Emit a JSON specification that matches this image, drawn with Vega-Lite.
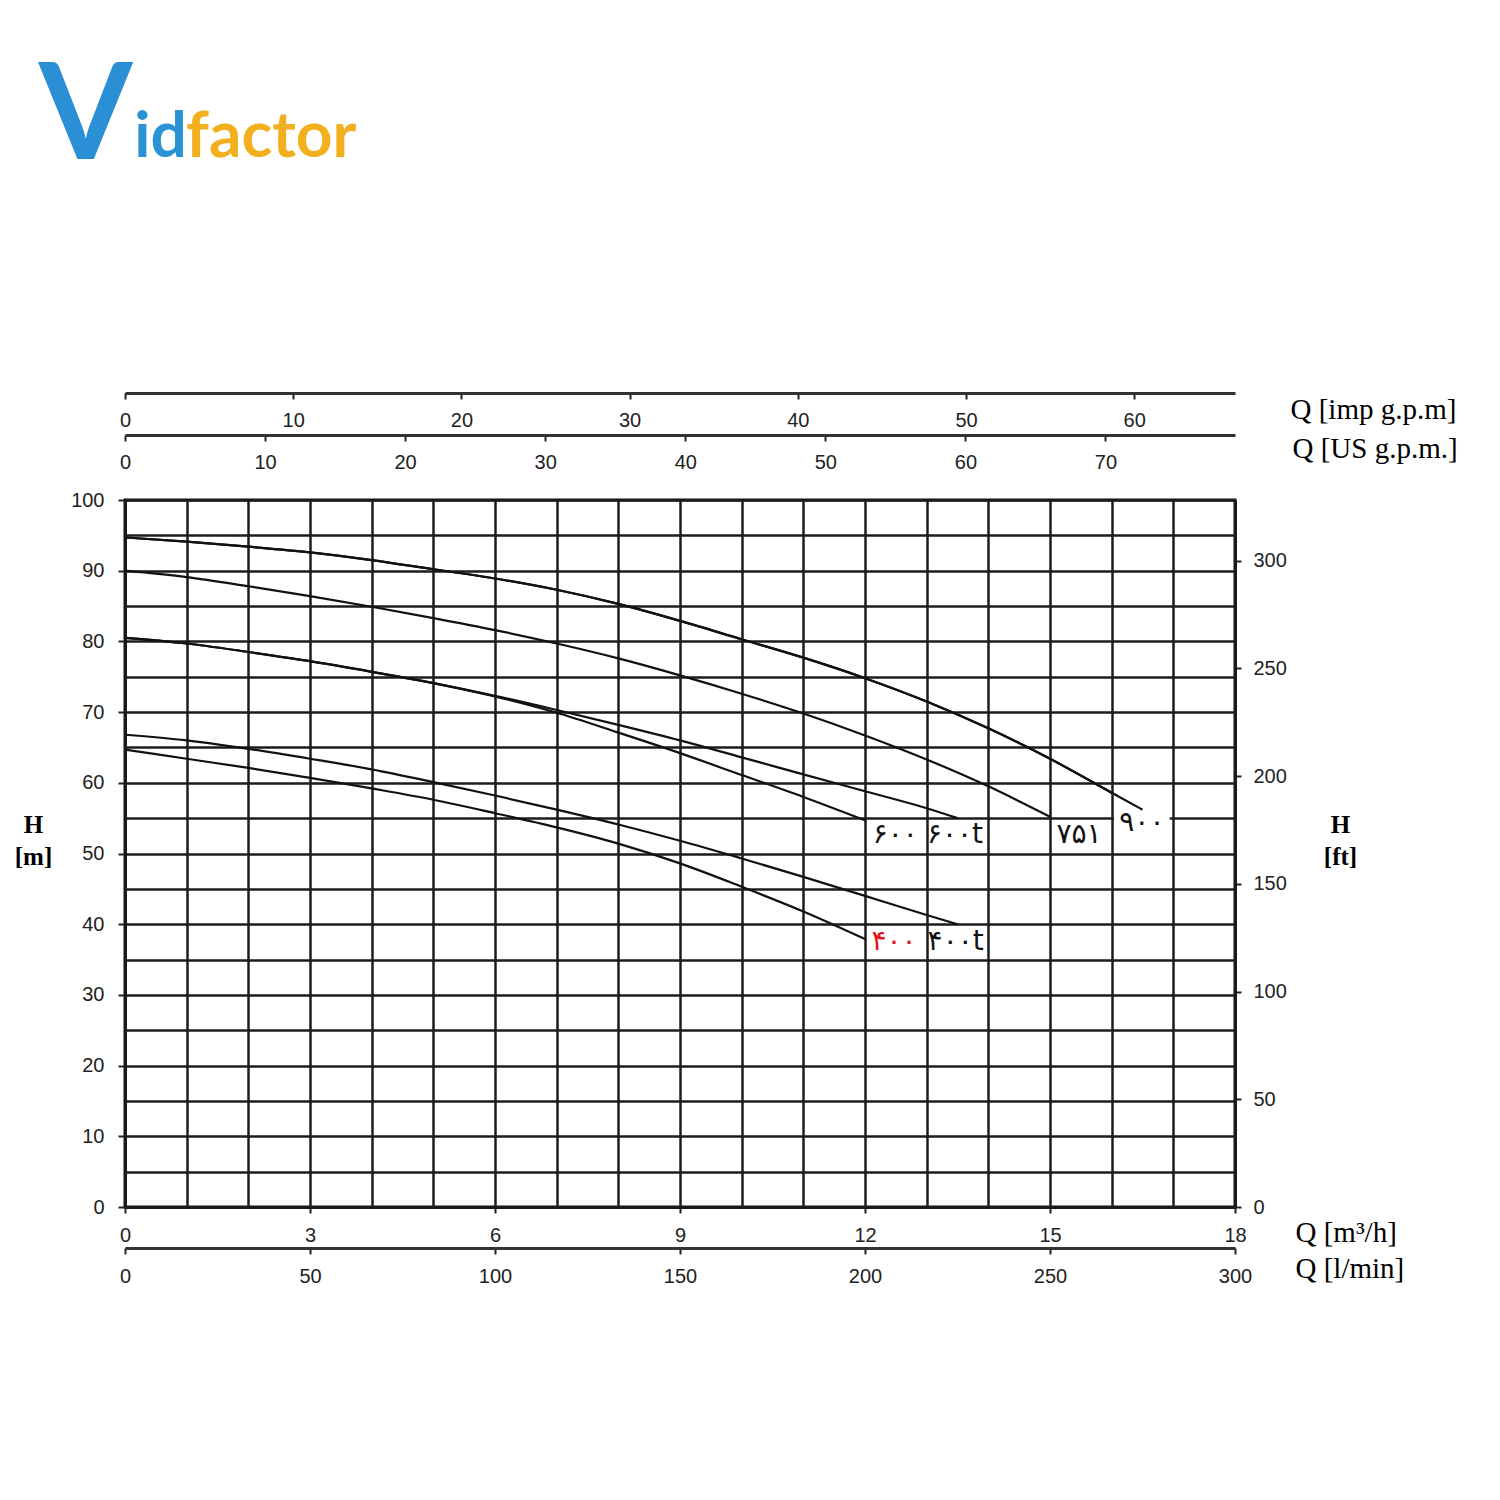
{
  "$schema": "https://vega.github.io/schema/vega-lite/v6.json",
  "autosize": {"type": "none"},
  "padding": {"left": 125, "top": 500, "right": 265, "bottom": 293},
  "width": 1110,
  "height": 707,
  "background": "white",
  "config": {
    "view": {"stroke": "#111", "strokeWidth": 3},
    "axis": {
      "labelFont": "Liberation Sans", "labelFontSize": 20, "labelColor": "#222",
      "tickColor": "#222", "tickWidth": 2, "domainColor": "#1a1a1a", "domainWidth": 3,
      "titleFont": "Liberation Serif", "titleColor": "#000", "titleFontWeight": "normal",
      "titleFontSize": 29, "titleAngle": 0, "labelFlush": false, "labelOverlap": false
    }
  },
  "datasets": {
    "curves": [
      {"s":"900","Q":0,"H":94.7},{"s":"900","Q":1,"H":94.1},{"s":"900","Q":2,"H":93.4},{"s":"900","Q":3,"H":92.6},{"s":"900","Q":4,"H":91.5},{"s":"900","Q":5,"H":90.2},{"s":"900","Q":6,"H":88.9},{"s":"900","Q":7,"H":87.3},{"s":"900","Q":8,"H":85.3},{"s":"900","Q":9,"H":82.9},{"s":"900","Q":10,"H":80.3},{"s":"900","Q":11,"H":77.7},{"s":"900","Q":12,"H":74.8},{"s":"900","Q":13,"H":71.5},{"s":"900","Q":14,"H":67.7},{"s":"900","Q":15,"H":63.4},{"s":"900","Q":16,"H":58.6},{"s":"900","Q":16.5,"H":56.2},
      {"s":"751","Q":0,"H":90.0},{"s":"751","Q":1,"H":89.1},{"s":"751","Q":2,"H":87.8},{"s":"751","Q":3,"H":86.4},{"s":"751","Q":4,"H":84.9},{"s":"751","Q":5,"H":83.3},{"s":"751","Q":6,"H":81.6},{"s":"751","Q":7,"H":79.7},{"s":"751","Q":8,"H":77.6},{"s":"751","Q":9,"H":75.2},{"s":"751","Q":10,"H":72.6},{"s":"751","Q":11,"H":69.8},{"s":"751","Q":12,"H":66.7},{"s":"751","Q":13,"H":63.3},{"s":"751","Q":14,"H":59.5},{"s":"751","Q":15,"H":55.2},
      {"s":"600t","Q":0,"H":80.5},{"s":"600t","Q":1,"H":79.7},{"s":"600t","Q":2,"H":78.5},{"s":"600t","Q":3,"H":77.2},{"s":"600t","Q":4,"H":75.7},{"s":"600t","Q":5,"H":74.1},{"s":"600t","Q":6,"H":72.3},{"s":"600t","Q":7,"H":70.3},{"s":"600t","Q":8,"H":68.2},{"s":"600t","Q":9,"H":66.0},{"s":"600t","Q":10,"H":63.6},{"s":"600t","Q":11,"H":61.2},{"s":"600t","Q":12,"H":58.8},{"s":"600t","Q":13,"H":56.4},{"s":"600t","Q":13.5,"H":55.0},
      {"s":"600","Q":0,"H":80.5},{"s":"600","Q":1,"H":79.7},{"s":"600","Q":2,"H":78.5},{"s":"600","Q":3,"H":77.2},{"s":"600","Q":4,"H":75.7},{"s":"600","Q":5,"H":74.1},{"s":"600","Q":6,"H":72.2},{"s":"600","Q":7,"H":69.9},{"s":"600","Q":8,"H":67.1},{"s":"600","Q":9,"H":64.2},{"s":"600","Q":10,"H":61.1},{"s":"600","Q":11,"H":58.0},{"s":"600","Q":12,"H":54.7},
      {"s":"400t","Q":0,"H":66.8},{"s":"400t","Q":1,"H":66.0},{"s":"400t","Q":2,"H":64.8},{"s":"400t","Q":3,"H":63.4},{"s":"400t","Q":4,"H":61.9},{"s":"400t","Q":5,"H":60.1},{"s":"400t","Q":6,"H":58.2},{"s":"400t","Q":7,"H":56.2},{"s":"400t","Q":8,"H":54.1},{"s":"400t","Q":9,"H":51.8},{"s":"400t","Q":10,"H":49.3},{"s":"400t","Q":11,"H":46.7},{"s":"400t","Q":12,"H":44.0},{"s":"400t","Q":13,"H":41.3},{"s":"400t","Q":13.5,"H":40.0},
      {"s":"400","Q":0,"H":64.7},{"s":"400","Q":1,"H":63.4},{"s":"400","Q":2,"H":62.1},{"s":"400","Q":3,"H":60.7},{"s":"400","Q":4,"H":59.2},{"s":"400","Q":5,"H":57.6},{"s":"400","Q":6,"H":55.7},{"s":"400","Q":7,"H":53.7},{"s":"400","Q":8,"H":51.4},{"s":"400","Q":9,"H":48.6},{"s":"400","Q":10,"H":45.3},{"s":"400","Q":11,"H":41.8},{"s":"400","Q":12,"H":37.9}
    ],
    "tags": [
      {"label":"۶۰۰","Q":12.49,"H":52.6},
      {"label":"۶۰۰t","Q":13.46,"H":52.6},
      {"label":"۷۵۱","Q":15.47,"H":52.6},
      {"label":"۹۰۰","Q":16.49,"H":54.3},
      {"label":"۴۰۰","Q":12.47,"H":37.5},
      {"label":"۴۰۰t","Q":13.47,"H":37.5}
    ],
    "ends": [
      {"lpm":0,"imp":0,"us":0,"ft":0},
      {"lpm":300,"imp":65.99,"us":79.25,"ft":328.08}
    ],
    "logoV": [{"w":"V"}],
    "logoId": [{"w":"id"}],
    "logoFactor": [{"w":"factor"}]
  },
  "resolve": {
    "scale": {"x": "independent", "y": "independent"},
    "axis": {"x": "independent", "y": "independent"}
  },
  "layer": [
    {
      "data": {"name": "curves"},
      "mark": {"type": "line", "color": "#111", "strokeWidth": 2.2, "interpolate": "monotone"},
      "encoding": {
        "x": {"field": "Q", "type": "quantitative",
          "scale": {"domain": [0, 18], "nice": false, "zero": false},
          "axis": {"orient": "bottom", "values": [0,1,2,3,4,5,6,7,8,9,10,11,12,13,14,15,16,17,18],
            "grid": true, "gridColor": "#1c1c1c", "gridWidth": 2.5, "gridOpacity": 1,
            "labels": false, "ticks": false, "domain": false, "title": null}},
        "y": {"field": "H", "type": "quantitative",
          "scale": {"domain": [0, 100], "nice": false, "zero": false},
          "axis": {"orient": "left", "values": [0,5,10,15,20,25,30,35,40,45,50,55,60,65,70,75,80,85,90,95,100],
            "grid": true, "gridColor": "#1c1c1c", "gridWidth": 2.5, "gridOpacity": 1,
            "labels": false, "ticks": false, "domain": false, "title": null}},
        "detail": {"field": "s", "type": "nominal"}
      }
    },
    {
      "data": {"name": "tags"},
      "transform": [{"filter": "datum.label === '۹۰۰'"}],
      "mark": {"type": "square", "color": "white", "opacity": 1, "size": 3100},
      "encoding": {
        "x": {"field": "Q", "type": "quantitative", "scale": {"domain": [0, 18], "nice": false, "zero": false}, "axis": null},
        "y": {"field": "H", "type": "quantitative", "scale": {"domain": [0, 100], "nice": false, "zero": false}, "axis": null}
      }
    },
    {
      "data": {"name": "curves"},
      "transform": [{"filter": "datum.s === '900'"}],
      "mark": {"type": "line", "color": "#111", "strokeWidth": 2.2, "interpolate": "monotone"},
      "encoding": {
        "x": {"field": "Q", "type": "quantitative", "scale": {"domain": [0, 18], "nice": false, "zero": false}, "axis": null},
        "y": {"field": "H", "type": "quantitative", "scale": {"domain": [0, 100], "nice": false, "zero": false}, "axis": null}
      }
    },
    {
      "data": {"name": "tags"},
      "mark": {"type": "text", "font": "DejaVu Sans", "fontSize": 28, "align": "center", "baseline": "middle"},
      "encoding": {
        "x": {"field": "Q", "type": "quantitative",
          "scale": {"domain": [0, 18], "nice": false, "zero": false},
          "axis": {"orient": "bottom", "values": [0,3,6,9,12,15,18], "grid": false,
            "tickSize": 6, "labelPadding": 12,
            "title": "Q [m³/h]", "titleX": 1170, "titleY": 25, "titleAlign": "left", "titleBaseline": "middle"}},
        "y": {"field": "H", "type": "quantitative",
          "scale": {"domain": [0, 100], "nice": false, "zero": false},
          "axis": {"orient": "left", "values": [0,10,20,30,40,50,60,70,80,90,100], "grid": false,
            "tickSize": 7, "labelPadding": 14,
            "title": ["H", "[m]"], "titleFontWeight": "bold", "titleFontSize": 25,
            "titleX": -92, "titleY": 312, "titleAlign": "center", "titleBaseline": "top", "titleLineHeight": 32}},
        "text": {"field": "label"},
        "color": {"condition": {"test": "datum.label === '۴۰۰'", "value": "#e3161b"}, "value": "#111"}
      }
    },
    {
      "data": {"name": "ends"},
      "mark": {"type": "point", "opacity": 0},
      "encoding": {
        "x": {"field": "lpm", "type": "quantitative",
          "scale": {"domain": [0, 300], "nice": false, "zero": false},
          "axis": {"orient": "bottom", "offset": 41, "values": [0,50,100,150,200,250,300],
            "tickSize": 6, "labelPadding": 12, "domainColor": "#333",
            "title": "Q [l/min]", "titleX": 1170, "titleY": 20, "titleAlign": "left", "titleBaseline": "middle"}}
      }
    },
    {
      "data": {"name": "ends"},
      "mark": {"type": "point", "opacity": 0},
      "encoding": {
        "x": {"field": "imp", "type": "quantitative",
          "scale": {"domain": [0, 65.99], "nice": false, "zero": false},
          "axis": {"orient": "bottom", "offset": -814, "values": [0,10,20,30,40,50,60],
            "tickSize": 6, "labelPadding": 11, "domainColor": "#333",
            "title": "Q [imp g.p.m]", "titleX": 1165, "titleY": 16, "titleAlign": "left", "titleBaseline": "middle"}}
      }
    },
    {
      "data": {"name": "ends"},
      "mark": {"type": "point", "opacity": 0},
      "encoding": {
        "x": {"field": "us", "type": "quantitative",
          "scale": {"domain": [0, 79.25], "nice": false, "zero": false},
          "axis": {"orient": "bottom", "offset": -772, "values": [0,10,20,30,40,50,60,70],
            "tickSize": 6, "labelPadding": 11, "domainColor": "#333",
            "title": "Q [US g.p.m.]", "titleX": 1167, "titleY": 13, "titleAlign": "left", "titleBaseline": "middle"}}
      }
    },
    {
      "data": {"name": "ends"},
      "mark": {"type": "point", "opacity": 0},
      "encoding": {
        "y": {"field": "ft", "type": "quantitative",
          "scale": {"domain": [0, 328.08], "nice": false, "zero": false},
          "axis": {"orient": "right", "values": [0,50,100,150,200,250,300],
            "tickSize": 6, "labelPadding": 12,
            "title": ["H", "[ft]"], "titleFontWeight": "bold", "titleFontSize": 25,
            "titleX": 105, "titleY": 312, "titleAlign": "center", "titleBaseline": "top", "titleLineHeight": 32}}
      }
    },
    {
      "data": {"name": "logoV"},
      "mark": {"type": "text", "font": "Lato", "fontWeight": "bold", "fontSize": 135, "color": "#2b8fd6", "align": "left", "baseline": "alphabetic"},
      "encoding": {
        "x": {"datum": -1.40, "type": "quantitative", "scale": {"domain": [0, 18], "nice": false, "zero": false}, "axis": null},
        "y": {"datum": 148.2, "type": "quantitative", "scale": {"domain": [0, 100], "nice": false, "zero": false}, "axis": null},
        "text": {"field": "w"}
      }
    },
    {
      "data": {"name": "logoId"},
      "mark": {"type": "text", "font": "Lato", "fontWeight": "bold", "fontSize": 64, "color": "#2a93d5", "align": "left", "baseline": "alphabetic"},
      "encoding": {
        "x": {"datum": 0.15, "type": "quantitative", "scale": {"domain": [0, 18], "nice": false, "zero": false}, "axis": null},
        "y": {"datum": 148.5, "type": "quantitative", "scale": {"domain": [0, 100], "nice": false, "zero": false}, "axis": null},
        "text": {"field": "w"}
      }
    },
    {
      "data": {"name": "logoFactor"},
      "mark": {"type": "text", "font": "Lato", "fontWeight": "bold", "fontSize": 64, "color": "#f2b01e", "align": "left", "baseline": "alphabetic"},
      "encoding": {
        "x": {"datum": 0.99, "type": "quantitative", "scale": {"domain": [0, 18], "nice": false, "zero": false}, "axis": null},
        "y": {"datum": 148.5, "type": "quantitative", "scale": {"domain": [0, 100], "nice": false, "zero": false}, "axis": null},
        "text": {"field": "w"}
      }
    }
  ]
}
